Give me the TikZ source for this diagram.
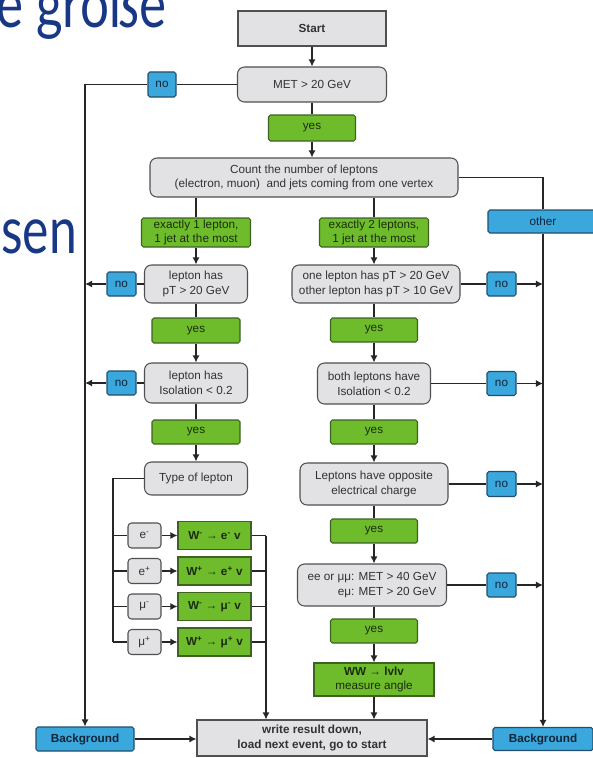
\documentclass[tikz,border=0pt]{standalone}
\usepackage{fontspec}
\setmainfont{Liberation Sans}
\newfontfamily\slidefont{Lato}
\usetikzlibrary{arrows.meta}

\definecolor{boxgray}{RGB}{226,226,228}
\definecolor{edgegray}{RGB}{80,80,80}
\definecolor{textgray}{RGB}{50,50,50}
\definecolor{boxgreen}{RGB}{110,188,44}
\definecolor{edgegreen}{RGB}{62,98,34}
\definecolor{textgreen}{RGB}{28,44,16}
\definecolor{boxblue}{RGB}{58,168,220}
\definecolor{edgeblue}{RGB}{32,78,108}
\definecolor{textblue}{RGB}{18,36,56}
\definecolor{slideblue}{RGB}{24,56,134}

\begin{document}
\begin{tikzpicture}[x=0.03cm, y=-0.03cm,
    font=\fontsize{10}{12.5}\selectfont,
    sz/.style 2 args={minimum width=#1*0.03cm, minimum height=#2*0.03cm},
    box/.style={draw=edgegray, line width=0.9pt, inner sep=1pt, align=center},
    plain/.style={box, fill=boxgray, text=textgray},
    test/.style={plain, rounded corners=6pt},
    small/.style={plain, rounded corners=3pt},
    yesbox/.style={box, fill=boxgreen, draw=edgegreen, rounded corners=1.5pt, text=textgreen},
    wbox/.style={box, fill=boxgreen, draw=edgegreen, text=textgreen, font=\fontsize{10}{12.5}\selectfont\bfseries},
    nobox/.style={box, fill=boxblue, draw=edgeblue, rounded corners=1.5pt, text=textblue},
    slide/.style={inner sep=0pt, text=slideblue, font=\slidefont\fontsize{56}{60}\selectfont},
    link/.style={draw=black!85, line width=1.1pt},
    arr/.style={-{Latex[length=6pt,width=6pt]}}]

    % Frame
    \useasboundingbox (0,0) rectangle (593,758);
    \clip (0,0) rectangle (593,758);

    % Slide text behind
    \node[slide, anchor=base west] (word1) at (-4,28) {\scalebox{0.78}[1]{e große}};
    \node[slide, anchor=base west] (word2) at (1,253) {\scalebox{0.76}[1]{sen}};

    % Top
    \node[plain, sz={148}{35}, font=\fontsize{10}{12.5}\selectfont\bfseries] (start) at (312,28.5) {Start};
    \node[test, sz={149}{35}] (met) at (312,84.5) {MET > 20 GeV};
    \node[nobox, sz={28}{25}] (no0) at (162,84.5) {no};
    \node[yesbox, sz={87}{26}] (yes0) at (312,128) {yes};
    \node[test, sz={308}{39}] (count) at (304,177.5) {Count the number of leptons\\(electron, muon)\ \ and jets coming from one vertex};
    \node[yesbox, sz={109}{29}] (one) at (196,232.5) {exactly 1 lepton,\\1 jet at the most};
    \node[yesbox, sz={109}{29}] (two) at (374,232.5) {exactly 2 leptons,\\1 jet at the most};
    \node[nobox, sz={110}{23}] (other) at (543,221.5) {other};

    % One lepton
    \node[test, sz={103}{38}] (pt1) at (196,284) {lepton has\\pT > 20 GeV};
    \node[nobox, sz={29}{24}] (no1) at (121.5,284) {no};
    \node[yesbox, sz={88}{25}] (yes1) at (196,330.5) {yes};
    \node[test, sz={103}{40}] (iso1) at (196,383) {lepton has\\Isolation < 0.2};
    \node[nobox, sz={29}{24}] (no2) at (121.5,383) {no};
    \node[yesbox, sz={88}{24}] (yes2) at (196,432) {yes};
    \node[test, sz={103}{33}] (type) at (196,478.5) {Type of lepton};

    % Two leptons
    \node[test, sz={168}{38}] (pt2) at (376,284) {one lepton has pT > 20 GeV\\other lepton has pT > 10 GeV};
    \node[nobox, sz={29}{24}] (no3) at (501.5,284) {no};
    \node[yesbox, sz={87}{24}] (yes3) at (374,330) {yes};
    \node[test, sz={113}{41}] (iso2) at (374,383.5) {both leptons have\\Isolation < 0.2};
    \node[nobox, sz={29}{24}] (no4) at (501.5,383.5) {no};
    \node[yesbox, sz={87}{24}] (yes4) at (374,432) {yes};
    \node[test, sz={148}{42}] (charge) at (374,484) {Leptons have opposite\\electrical charge};
    \node[nobox, sz={29}{25}] (no5) at (501.5,484) {no};
    \node[yesbox, sz={87}{24}] (yes5) at (374,531) {yes};
    \node[test, sz={149}{42}, align=right] (met2) at (372,585) {ee or μμ: MET > 40 GeV\\eμ: MET > 20 GeV};
    \node[nobox, sz={29}{24}] (no6) at (501.5,585) {no};
    \node[yesbox, sz={87}{24}] (yes6) at (374,631) {yes};
    \node[wbox, sz={120}{33}] (ww) at (374,679.5) {WW → lvlv\\\mdseries measure angle};

    % Bottom
    \node[plain, sz={230}{36}, font=\fontsize{10}{12.5}\selectfont\bfseries] (write) at (312,738) {write result down,\\load next event, go to start};
    \node[nobox, sz={98}{24}, font=\fontsize{10}{12.5}\selectfont\bfseries] (bg1) at (85,739) {Background};
    \node[nobox, sz={100}{23}, font=\fontsize{10}{12.5}\selectfont\bfseries] (bg2) at (543,739) {Background};

    % Lepton types
    \foreach \y/\l/\s [count=\i] in {535.5/e/-, 571/e/+, 606.5/μ/-, 642/μ/+} {
        \node[small, sz={33}{25}] (lep\i) at (144.5,\y) {\l\textsuperscript{\s}};
        \node[wbox, sz={73}{28}] (w\i) at (214.5,\y) {W\textsuperscript{\s} → \l\textsuperscript{\s} v};
        \draw[link, arr] (lep\i) -- (w\i);
    }

    % Main flow
    \draw[link, arr] (start) -- (met);
    \draw[link] (met) -- (yes0);
    \draw[link, arr] (yes0) -- (count.north -| yes0);
    \draw[link] (count.south -| one) -- (one);
    \draw[link] (count.south -| two) -- (two);
    \draw[link, arr] (one) -- (pt1);
    \draw[link] (pt1) -- (yes1);
    \draw[link, arr] (yes1) -- (iso1);
    \draw[link] (iso1) -- (yes2);
    \draw[link, arr] (yes2) -- (type);
    \draw[link, arr] (two) -- (two |- pt2.north);
    \draw[link] (two |- pt2.south) -- (yes3);
    \draw[link, arr] (yes3) -- (iso2);
    \draw[link] (iso2) -- (yes4);
    \draw[link, arr] (yes4) -- (charge);
    \draw[link] (charge) -- (yes5);
    \draw[link, arr] (yes5) -- (yes5 |- met2.north);
    \draw[link] (yes6 |- met2.south) -- (yes6);
    \draw[link, arr] (yes6) -- (ww);
    \draw[link, arr] (ww) -- (ww |- write.north);

    % Left side, rejected
    \draw[link] (met) -- (no0);
    \draw[link, arr] (no0.west) -| (bg1.north);
    \draw[link] (pt1) -- (no1);
    \draw[link, arr] (no1.west) -- (no1.west -| bg1.north);
    \draw[link] (iso1) -- (no2);
    \draw[link, arr] (no2.west) -- (no2.west -| bg1.north);
    \draw[link, arr] (bg1.east) -- (bg1.east -| write.west);

    % Right side, rejected
    \draw[link] (count.east) -| (other.north);
    \draw[link, arr] (other.south) -- (bg2.north);
    \foreach \t/\n in {pt2/no3, iso2/no4, charge/no5, met2/no6} {
        \draw[link] (\t.east |- \n.west) -- (\n.west);
        \draw[link, arr] (\n.east) -- (\n.east -| other.south);
    }
    \draw[link, arr] (bg2.west) -- (bg2.west -| write.east);

    % Lepton branches
    \coordinate (tr) at (113,478.5);
    \draw[link] (type.west) -- (tr) -- (tr |- lep4.west);
    \foreach \i in {1,...,4}
        \draw[link] (tr |- lep\i.west) -- (lep\i.west);
    \coordinate (wj) at (266,535.5);
    \foreach \i in {1,...,4}
        \draw[link] (w\i.east) -- (w\i.east -| wj);
    \draw[link, arr] (wj) -- (wj |- write.north);
\end{tikzpicture}
\end{document}
